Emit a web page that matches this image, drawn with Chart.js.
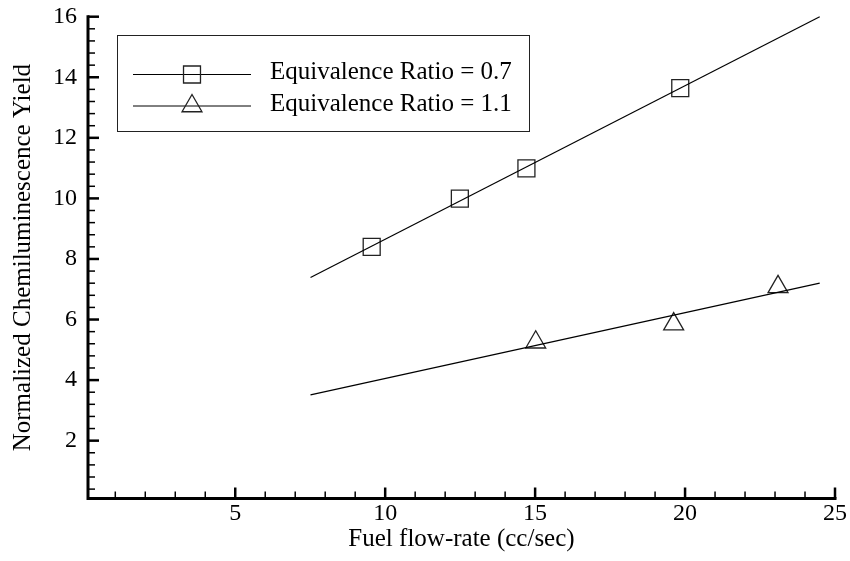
<!DOCTYPE html>
<html><head><meta charset="utf-8">
<script src="https://cdn.jsdelivr.net/npm/chart.js@4/dist/chart.umd.min.js"></script>
<style>html,body{margin:0;padding:0;background:#fff}#wrap{width:850px;height:561px;position:relative}</style>
</head><body><div id="wrap"><canvas id="c" width="850" height="561"></canvas></div>
<script>
// ---- data ----
const seriesNames = ['Equivalence Ratio = 0.7', 'Equivalence Ratio = 1.1'];
const phi07X = [9.55, 12.49, 14.71, 19.84];
const phi07Y = [8.40, 9.99, 10.99, 13.64];
const phi11X = [15.02, 19.62, 23.10];
const phi11Y = [5.25, 5.85, 7.08];
const fit07X = [7.51, 24.49];
const fit07Y = [7.39, 16.0];
const fit11X = [7.51, 24.49];
const fit11Y = [3.51, 7.20];
const xTickValues = [5, 10, 15, 20, 25];
const yTickValues = [2, 4, 6, 8, 10, 12, 14, 16];
const xTitle = 'Fuel flow-rate (cc/sec)';
const yTitle = 'Normalized Chemiluminescence Yield';

const pts = (xs, ys) => xs.map((v, i) => ({x: v, y: ys[i]}));
const FONT = "'Liberation Serif', 'Times New Roman', serif";
Chart.defaults.font.family = FONT;
Chart.defaults.color = '#000';

function line(ctx, x1, y1, x2, y2) { ctx.beginPath(); ctx.moveTo(x1, y1); ctx.lineTo(x2, y2); ctx.stroke(); }

const axisPlugin = {
  id: 'axesDraw',
  afterDatasetsDraw(chart) {
    const {ctx, chartArea: a, scales: {x, y}} = chart;
    ctx.save();
    ctx.strokeStyle = '#000';
    const x0 = a.left, y0 = a.bottom;
    ctx.lineWidth = 1.5;
    for (let v = 1; v < 25; v++) {
      if (v % 5 === 0) continue;
      const px = x.getPixelForValue(v);
      line(ctx, px, y0, px, y0 - 7);
    }
    for (let k = 1; k < 40; k++) {
      if (k % 5 === 0) continue;
      const py = y.getPixelForValue(k * 0.4);
      line(ctx, x0, py, x0 + 7, py);
    }
    ctx.lineWidth = 2.5;
    xTickValues.forEach(v => { const px = x.getPixelForValue(v); line(ctx, px, y0, px, y0 - 11); });
    yTickValues.forEach(v => { const py = y.getPixelForValue(v); line(ctx, x0, py, x0 + 11, py); });
    ctx.lineWidth = 3;
    ctx.beginPath();
    ctx.moveTo(x0, y.getPixelForValue(16) - 1.5);
    ctx.lineTo(x0, y0);
    ctx.lineTo(x.getPixelForValue(25) + 1.5, y0);
    ctx.stroke();
    ctx.restore();
  }
};

const legendPlugin = {
  id: 'boxLegend',
  afterDraw(chart) {
    const ctx = chart.ctx;
    ctx.save();
    ctx.fillStyle = '#fff';
    ctx.fillRect(117, 35, 413, 96);
    ctx.strokeStyle = '#222';
    ctx.lineWidth = 1;
    ctx.strokeRect(117.5, 35.5, 412, 96);
    const rows = [{y: 74.5, style: 'rect', r: 12}, {y: 106, style: 'triangle', r: 11.5}];
    rows.forEach((row, i) => {
      ctx.strokeStyle = '#000';
      ctx.lineWidth = 1;
      line(ctx, 133, row.y, 251, row.y);
      ctx.fillStyle = 'rgba(0,0,0,0)';
      ctx.strokeStyle = '#222';
      ctx.lineWidth = 1.3;
      Chart.helpers.drawPoint(ctx, {pointStyle: row.style, radius: row.r, borderWidth: 1.3, rotation: 0}, 192, row.y);
      ctx.fillStyle = '#000';
      ctx.font = '25px ' + FONT;
      ctx.textBaseline = 'middle';
      ctx.textAlign = 'left';
      ctx.fillText(seriesNames[i], 270, row.y - 2);
    });
    ctx.restore();
  }
};

const lineDs = (xs, ys) => ({
  data: pts(xs, ys), showLine: true, borderColor: '#000', borderWidth: 1.2,
  pointRadius: 0, pointHoverRadius: 0, fill: false, clip: false
});
const markDs = (xs, ys, style, r, label) => ({
  label, data: pts(xs, ys), showLine: false, pointStyle: style, pointRadius: r, pointHoverRadius: r,
  pointBorderColor: '#222', pointBackgroundColor: 'rgba(0,0,0,0)', pointBorderWidth: 1.3, clip: false
});

new Chart(document.getElementById('c'), {
  type: 'scatter',
  data: {
    datasets: [
      lineDs(fit07X, fit07Y),
      lineDs(fit11X, fit11Y),
      markDs(phi07X, phi07Y, 'rect', 12, seriesNames[0]),
      markDs(phi11X, phi11Y, 'triangle', 11.5, seriesNames[1])
    ]
  },
  options: {
    responsive: false, animation: false, devicePixelRatio: 1,
    layout: {padding: {top: 16.7, right: 15, left: 0, bottom: 0}},
    plugins: {legend: {display: false}, tooltip: {enabled: false}},
    scales: {
      x: {
        type: 'linear', min: 0.09, max: 25,
        afterBuildTicks: s => { s.ticks = xTickValues.map(v => ({value: v})); },
        afterFit: s => { s.height = 62.5; s.paddingLeft = 0; s.paddingRight = 0; },
        grid: {display: false, drawTicks: false}, border: {display: false},
        ticks: {font: {size: 24}, padding: 1, maxRotation: 0, autoSkip: false},
        title: {display: true, text: xTitle, font: {size: 25}, padding: {top: 0, bottom: 7}}
      },
      y: {
        type: 'linear', min: 0.09, max: 16,
        afterBuildTicks: s => { s.ticks = yTickValues.map(v => ({value: v})); },
        afterFit: s => { s.width = 88; s.paddingTop = 0; s.paddingBottom = 0; },
        grid: {display: false, drawTicks: false}, border: {display: false},
        ticks: {font: {size: 24}, padding: 11, autoSkip: false},
        title: {display: true, text: yTitle, font: {size: 25}, padding: {top: 8, bottom: 0}}
      }
    }
  },
  plugins: [axisPlugin, legendPlugin]
});
</script></body></html>
